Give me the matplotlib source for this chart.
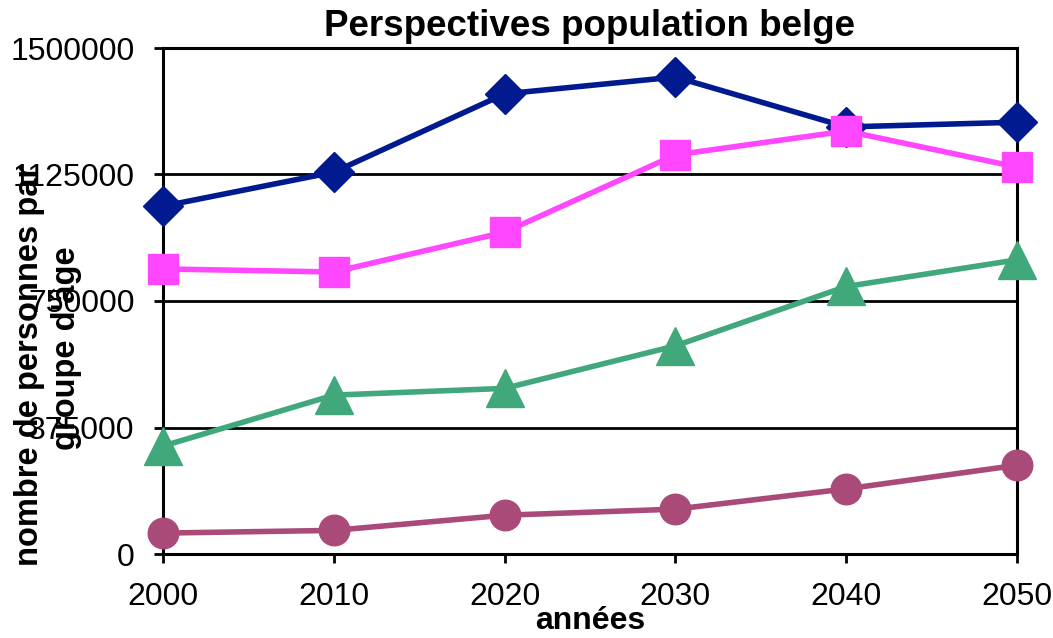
import matplotlib
matplotlib.use("Agg")
import matplotlib.pyplot as plt

plt.rcParams['font.family'] = ['Liberation Sans', 'DejaVu Sans']

years = [2000, 2010, 2020, 2030, 2040, 2050]
serie_losange = [1031000, 1132000, 1364000, 1414000, 1266000, 1280000]
serie_carre = [845000, 836000, 954000, 1183000, 1254000, 1147000]
serie_triangle = [320000, 471000, 491000, 617000, 793000, 872000]
serie_cercle = [62000, 70000, 115000, 133000, 193000, 263000]
yticks = [0, 375000, 750000, 1125000, 1500000]

fig = plt.figure(figsize=(10.53, 6.38), dpi=100)
ax = fig.add_axes([163/1053, 84/638, (1017-163)/1053, (554-48)/638])

lw = 4.0
ax.plot(years, serie_losange, color='#021A8F', lw=lw, marker='D', ms=20, clip_on=False, zorder=5)
ax.plot(years, serie_carre, color='#FF47FF', lw=lw, marker='s', ms=22, clip_on=False, zorder=5)
ax.plot(years, serie_triangle, color='#40A87B', lw=lw, marker='^', ms=27, clip_on=False, zorder=5)
ax.plot(years, serie_cercle, color='#AA4A78', lw=lw, marker='o', ms=22, clip_on=False, zorder=5)

ax.set_xlim(2000, 2050)
ax.set_ylim(0, 1500000)
ax.set_xticks(years)
ax.set_yticks(yticks)
ax.set_yticklabels([str(v) for v in yticks])
ax.grid(axis='y', color='black', lw=2.0)
ax.set_axisbelow(True)
for s in ax.spines.values():
    s.set_color('black')
    s.set_linewidth(2.2)
ax.tick_params(axis='both', direction='out', length=6.5, width=2.0, labelsize=23, colors='black')
ax.tick_params(axis='y', pad=14)
ax.tick_params(axis='x', pad=14)

ax.set_title('Perspectives population belge', fontsize=26.5, fontweight='bold', pad=9)
fig.text(590/1053, 1 - 621/638, 'années', ha='center', va='center', fontsize=23, fontweight='bold')
fig.text(30/1053, 1 - 365/638, "nombre de personnes par", rotation=90,
         ha='center', va='center', fontsize=23.5, fontweight='bold')
fig.text(66/1053, 1 - 348/638, "groupe d'âge", rotation=90,
         ha='center', va='center', fontsize=23.5, fontweight='bold')

fig.savefig('out.png', dpi=100)
